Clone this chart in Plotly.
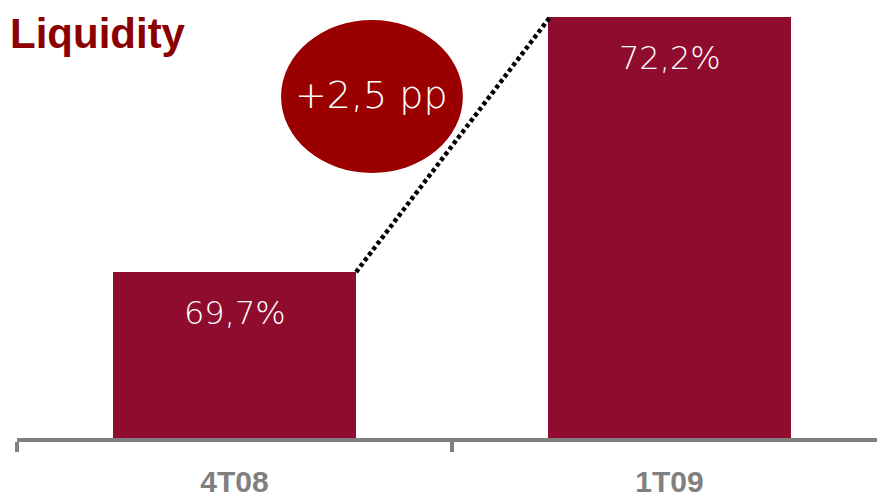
import plotly.graph_objects as go

categories = ["4T08", "1T09"]
values = [69.7, 72.2]
value_labels = ["69,7%", "72,2%"]
change_label = "+2,5 pp"
title_text = "Liquidity"

BAR_COLOR = "#900C2F"
CIRCLE_COLOR = "#9A0000"
TITLE_COLOR = "#8B0000"
AXIS_COLOR = "#808080"
BAR_WIDTH = 0.559
LIGHT_FONT = dict(family="DejaVu Sans", color="white", weight=200)

fig = go.Figure()
fig.add_trace(go.Bar(
    x=categories, y=values, width=BAR_WIDTH, marker=dict(color=BAR_COLOR, line=dict(width=0)),
    hoverinfo="skip", showlegend=False,
))

# dotted connector from top-right of first bar to top-left of second bar
fig.add_shape(type="line", xref="x", yref="y",
              x0=0 + BAR_WIDTH / 2, y0=values[0], x1=1 - BAR_WIDTH / 2 + 0.005, y1=values[1],
              line=dict(color="black", width=4.5, dash="4px,3px"))

for i, (v, lab) in enumerate(zip(values, value_labels)):
    fig.add_annotation(
        x=i, y=v, text=lab, showarrow=False, yanchor="middle", yshift=-41,
        font=dict(size=32, **LIGHT_FONT),
    )

# ellipse with change label
ex0, ex1, ey0, ey1 = 0.107, 0.525, 70.671, 72.171
fig.add_shape(type="circle", xref="x", yref="y", x0=ex0, x1=ex1, y0=ey0, y1=ey1,
              fillcolor=CIRCLE_COLOR, line=dict(width=0), layer="below")
fig.add_annotation(x=(ex0 + ex1) / 2, y=(ey0 + ey1) / 2, text=change_label,
                   showarrow=False, yshift=1,
                   font=dict(size=38, **LIGHT_FONT))

fig.add_annotation(xref="paper", yref="paper", x=-0.01, y=1.0, xanchor="left", yanchor="top",
                   yshift=-8, text="<b>" + title_text + "</b>", showarrow=False,
                   font=dict(family="Liberation Sans", size=42, color=TITLE_COLOR))

fig.update_layout(
    width=877, height=496,
    margin=dict(l=17, r=0, t=0, b=58, autoexpand=False),
    paper_bgcolor="white", plot_bgcolor="white",
    bargap=0,
    xaxis=dict(
        type="category", range=[-0.5, 1.477], automargin=False,
        tickson="boundaries", ticks="outside", ticklen=10, tickwidth=4, tickcolor=AXIS_COLOR,
        showline=True, linecolor=AXIS_COLOR, linewidth=4, showgrid=False, zeroline=False,
        tickfont=dict(family="Liberation Sans", size=30, color=AXIS_COLOR, weight="bold"),
        ticklabelstandoff=14, fixedrange=True,
    ),
    yaxis=dict(range=[68.073, 72.367], visible=False, automargin=False,
               showgrid=False, zeroline=False, fixedrange=True),
)

fig.write_html("out.html", config={"displayModeBar": False},
               post_script="document.body.style.margin='0';document.body.style.overflow='hidden';")
